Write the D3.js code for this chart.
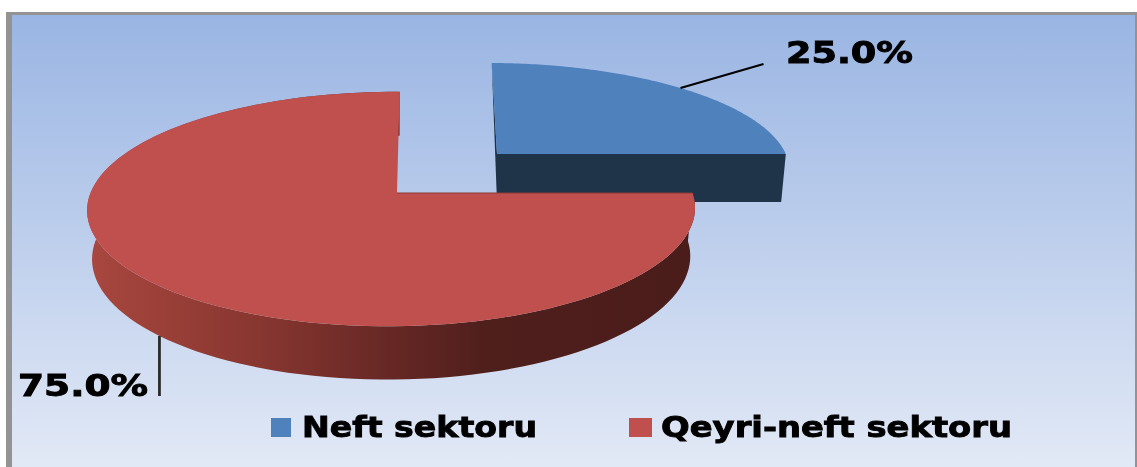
<!DOCTYPE html>
<html>
<head>
<meta charset="utf-8">
<script src="https://cdn.jsdelivr.net/npm/d3@7"></script>
<style>
  html, body { margin: 0; padding: 0; background: #fff; }
  svg { display: block; }
  text { font-family: "DejaVu Sans", sans-serif; font-weight: bold; fill: #000; stroke: #000; stroke-width: 0.9px; }
</style>
</head>
<body>
<div class="canvas"></div>
<script>
// data
const categories = ['Neft sektoru', 'Qeyri-neft sektoru'];
const shares = [25.0, 75.0];
const shareLabels = ['25.0%', '75.0%'];

const width = 1137, height = 467;

const svg = d3.select('.canvas')
  .append('svg')
  .attr('width', width)
  .attr('height', height);

const defs = svg.append('defs');

const bg = defs.append('linearGradient')
  .attr('id', 'bg')
  .attr('x1', 0).attr('y1', 0).attr('x2', 0).attr('y2', 1);
bg.append('stop').attr('offset', '0%').attr('stop-color', '#9ab5e3');
bg.append('stop').attr('offset', '100%').attr('stop-color', '#e2e9f6');

const redSide = defs.append('linearGradient')
  .attr('id', 'redSide')
  .attr('gradientUnits', 'userSpaceOnUse')
  .attr('x1', 90).attr('y1', 0).attr('x2', 690).attr('y2', 0);
redSide.append('stop').attr('offset', '0%').attr('stop-color', '#a8473f');
redSide.append('stop').attr('offset', '30%').attr('stop-color', '#85352f');
redSide.append('stop').attr('offset', '50%').attr('stop-color', '#662825');
redSide.append('stop').attr('offset', '66%').attr('stop-color', '#4f1f1c');
redSide.append('stop').attr('offset', '100%').attr('stop-color', '#4a1c1a');

// user space region, a straight vertical line has an empty bounding box
defs.append('filter')
  .attr('id', 'soft')
  .attr('filterUnits', 'userSpaceOnUse')
  .attr('x', 0).attr('y', 0)
  .attr('width', width).attr('height', height)
  .append('feGaussianBlur')
  .attr('stdDeviation', 0.6);

// frame and background
svg.append('rect')
  .attr('x', 6).attr('y', 12)
  .attr('width', width - 6).attr('height', height - 12)
  .attr('fill', '#939393');
svg.append('rect')
  .attr('x', 12).attr('y', 15)
  .attr('width', width - 14).attr('height', height - 15)
  .attr('fill', 'url(#bg)');

// one projection per slice: the blue one is pulled out to the back right
const geom = [
  {cx: 497, cy: 154, a: 294, b: 103.5, skew: -6, depth: 48, grow: 1, top: '#4f81bd', wall: '#1f3349', side: '#1f3349'},
  {cx: 397, cy: 193, a: 301, b: 115, skew: 3, depth: 48, grow: 1.04, top: '#c0504d', wall: '#8a3a37', side: 'url(#redSide)'}
];
const tiltY = 0.137, tiltX = 0.018, shrink = 0.984;

const project = (g, t) => {
  const s = Math.sin(t), c = Math.cos(t);
  const w = 1 + tiltY * c + tiltX * s;
  return [g.cx + (g.a * s + g.skew * c) / w, g.cy - g.b * c / w];
};

// same point on the lower rim of the slice
const drop = (g, p) => [
  g.cx + (p[0] - g.cx) * shrink,
  g.cy + (p[1] - g.cy) * g.grow + g.depth
];

const pie = d3.pie().sort(null)(shares);
const line = d3.line();
const angles = (t0, t1) => d3.range(0, 121).map(i => t0 + (t1 - t0) * i / 120);

const slices = svg.append('g');

// blue first, the red slice sits in front of it
pie.forEach((d, i) => {
  const g = geom[i];
  const apex = [g.cx, g.cy];
  const rim = angles(d.startAngle, d.endAngle).map(t => project(g, t));
  const first = rim[0], last = rim[rim.length - 1];

  const group = slices.append('g');

  // visible part of the outer wall runs from 90deg round to the end of the slice
  const from = Math.max(d.startAngle, Math.PI / 2);
  if (from < d.endAngle && i === 1) {
    const upper = angles(from, d.endAngle).map(t => project(g, t));
    const lower = upper.map(p => drop(g, p)).reverse();
    group.append('path')
      .attr('d', line(upper.concat(lower)) + 'Z')
      .attr('fill', g.side);
  }

  if (i === 0) {
    // cut faces of the blue slice
    group.append('path')
      .attr('d', line([apex, last, drop(g, last), drop(g, apex)]) + 'Z')
      .attr('fill', g.wall);
    group.append('path')
      .attr('d', line([first, apex, drop(g, apex)]) + 'Z')
      .attr('fill', g.wall);
  }

  group.append('path')
    .attr('d', line([apex].concat(rim)) + 'Z')
    .attr('fill', g.top);

  if (i === 1) {
    group.append('path')
      .attr('d', line([first, apex]))
      .attr('fill', 'none')
      .attr('stroke', g.wall)
      .attr('stroke-width', 1.2);
  }
});

// leader lines, anchored on the middle of each slice
const mid = d => (d.startAngle + d.endAngle) / 2;
const a0 = project(geom[0], mid(pie[0]));
const a1 = drop(geom[1], project(geom[1], mid(pie[1])));

svg.append('path')
  .attr('d', line([a0, [a0[0] + 83, a0[1] - 24]]))
  .attr('fill', 'none')
  .attr('stroke', '#000')
  .attr('stroke-width', 2.2)
  .attr('filter', 'url(#soft)');

svg.append('path')
  .attr('d', line([a1, [a1[0], a1[1] + 60]]))
  .attr('fill', 'none')
  .attr('stroke', '#2a2a2a')
  .attr('stroke-width', 2.8)
  .attr('filter', 'url(#soft)');

// value labels
const labelSpots = [
  {x: 786, y: 63, len: 127},
  {x: 18, y: 396, len: 130}
];
svg.append('g')
  .attr('filter', 'url(#soft)')
  .selectAll('text')
  .data(shareLabels)
  .join('text')
    .attr('x', (d, i) => labelSpots[i].x)
    .attr('y', (d, i) => labelSpots[i].y)
    .attr('font-size', 30)
    .attr('textLength', (d, i) => labelSpots[i].len)
    .attr('lengthAdjust', 'spacingAndGlyphs')
    .text(d => d);

// legend
const legendSpots = [
  {box: 271, boxW: 20, x: 302, len: 235},
  {box: 629, boxW: 23, x: 661, len: 351}
];
const legend = svg.append('g');
legend.selectAll('rect')
  .data(categories)
  .join('rect')
    .attr('x', (d, i) => legendSpots[i].box)
    .attr('y', 418)
    .attr('width', (d, i) => legendSpots[i].boxW)
    .attr('height', 19)
    .attr('fill', (d, i) => geom[i].top);
legend.append('g')
  .attr('filter', 'url(#soft)')
  .selectAll('text')
  .data(categories)
  .join('text')
    .attr('x', (d, i) => legendSpots[i].x)
    .attr('y', 437)
    .attr('font-size', 29)
    .attr('textLength', (d, i) => legendSpots[i].len)
    .attr('lengthAdjust', 'spacingAndGlyphs')
    .text(d => d);
</script>
</body>
</html>
